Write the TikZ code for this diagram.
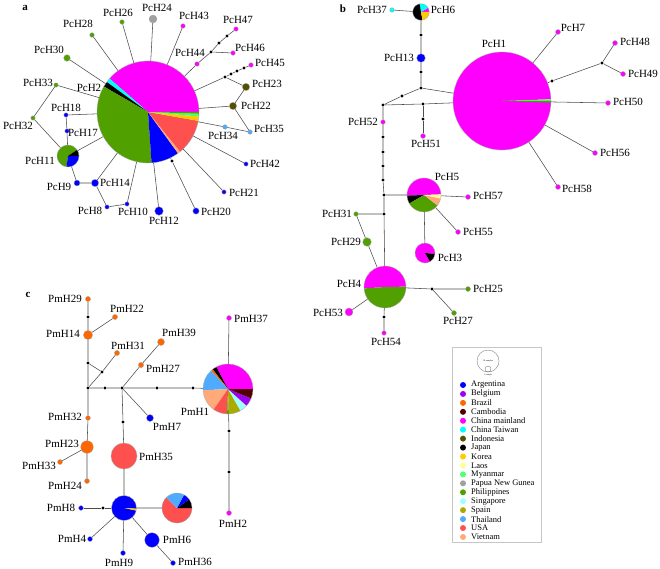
\documentclass[tikz,border=0pt]{standalone}
\usepackage{fontspec}
\setmainfont{Liberation Serif}
\definecolor{cArg}{RGB}{0,0,255}
\definecolor{cBel}{RGB}{160,0,240}
\definecolor{cBra}{RGB}{255,102,0}
\definecolor{cKhm}{RGB}{80,0,0}
\definecolor{cChn}{RGB}{255,0,255}
\definecolor{cTwn}{RGB}{0,255,255}
\definecolor{cIdn}{RGB}{85,80,0}
\definecolor{cJpn}{RGB}{0,0,0}
\definecolor{cKor}{RGB}{255,204,0}
\definecolor{cLao}{RGB}{255,255,150}
\definecolor{cMmr}{RGB}{80,255,120}
\definecolor{cPng}{RGB}{160,160,160}
\definecolor{cPhi}{RGB}{80,160,0}
\definecolor{cSgp}{RGB}{160,255,255}
\definecolor{cEsp}{RGB}{170,170,0}
\definecolor{cTha}{RGB}{80,170,255}
\definecolor{cUsa}{RGB}{255,80,80}
\definecolor{cVnm}{RGB}{255,170,120}
% one coloured sector of a haplotype pie
\newcommand{\piepart}[5]{\fill[#5] (#1.center) -- ++(#3:#2) arc[start angle=#3, end angle=#4, radius=#2] -- cycle;}
\tikzset{
  hap/.style={circle, inner sep=0pt, minimum size=#1, draw=gray!70, line width=0.3pt},
  pie/.style={circle, inner sep=0pt, minimum size=#1},
  med/.style={circle, inner sep=0pt, minimum size=3.4pt, fill=black},
  lbl/.style={inner sep=0pt, font=\fontsize{11}{13}\selectfont},
  tag/.style={inner sep=0pt, font=\bfseries\fontsize{11}{13}\selectfont},
  link/.style={draw=black!70, line width=0.55pt},
  rim/.style={draw=gray!70, line width=0.3pt},
  key/.style={circle, inner sep=0pt, minimum size=6pt},
  keytxt/.style={anchor=west, inner sep=0pt, font=\fontsize{8.5}{10}\selectfont}
}
\begin{document}
\begin{tikzpicture}[x=1pt,y=1pt]
\useasboundingbox (0,0) rectangle (660,-569);

% ---------- panel a
\node[tag] (pa) at (25,-8) {a};
\node[pie=102pt] (pch2) at (148,-112) {};
\piepart{pch2}{51}{0}{139}{cChn}
\piepart{pch2}{51}{139}{144}{cTwn}
\piepart{pch2}{51}{144}{150}{cJpn}
\piepart{pch2}{51}{150}{274}{cPhi}
\piepart{pch2}{51}{274}{306}{cArg}
\piepart{pch2}{51}{306}{309}{cVnm}
\piepart{pch2}{51}{309}{350}{cUsa}
\piepart{pch2}{51}{350}{355}{cKor}
\piepart{pch2}{51}{355}{358}{cMmr}
\piepart{pch2}{51}{358}{360}{cPhi}
\draw[rim] (pch2.center) circle[radius=51];
\node[pie=22pt] (pch11) at (68,-156) {};
\piepart{pch11}{11}{34}{262}{cPhi}
\piepart{pch11}{11}{262}{360}{cArg}
\piepart{pch11}{11}{0}{34}{cJpn}
\draw[rim] (pch11.center) circle[radius=11];

\node[hap=8pt, fill=cPng] (pch24) at (153,-19) {};
\node[hap=4.6pt, fill=cPhi] (pch26) at (122,-22) {};
\node[hap=4.6pt, fill=cChn] (pch43) at (183,-26) {};
\node[hap=4.6pt, fill=cPhi] (pch28) at (92,-35) {};
\node[hap=6.6pt, fill=cPhi] (pch30) at (67,-58) {};
\node[hap=4.4pt, fill=cPhi] (pch33) at (56,-85) {};
\node[hap=4.4pt, fill=cPhi] (pch32) at (33,-118) {};
\node[hap=4.4pt, fill=cArg] (pch18) at (66,-115) {};
\node[hap=4.4pt, fill=cArg] (pch17) at (67,-131) {};
\node[hap=6pt, fill=cArg] (pch9) at (77,-183) {};
\node[hap=7.4pt, fill=cArg] (pch14) at (95,-183) {};
\node[hap=4.4pt, fill=cArg] (pch8) at (107,-207) {};
\node[hap=4.4pt, fill=cArg] (pch10) at (127,-204) {};
\node[hap=8.6pt, fill=cArg] (pch12) at (159,-211) {};
\node[med] (ma1) at (172,-161) {};
\node[hap=6.4pt, fill=cArg] (pch20) at (196,-211) {};
\node[hap=4.4pt, fill=cArg] (pch21) at (224,-192) {};
\node[hap=4.4pt, fill=cArg] (pch42) at (246,-164) {};
\node[hap=4.6pt, fill=cTha] (pch34) at (225,-127) {};
\node[hap=4.6pt, fill=cTha] (pch35) at (250,-132) {};
\node[hap=7.4pt, fill=cIdn] (pch22) at (233,-106) {};
\node[hap=7.4pt, fill=cIdn] (pch23) at (246,-87) {};
\node[med] (ma2) at (225,-77) {};
\node[med] (ma3) at (231,-74) {};
\node[med] (ma4) at (237,-71) {};
\node[med] (ma5) at (244,-68) {};
\node[hap=4.6pt, fill=cChn] (pch45) at (251,-65) {};
\node[hap=4.6pt, fill=cChn] (pch44) at (197,-64) {};
\node[med] (ma6) at (211,-52) {};
\node[hap=4.6pt, fill=cChn] (pch46) at (233,-53) {};
\node[med] (ma7) at (219,-43) {};
\node[med] (ma8) at (227,-36) {};
\node[hap=4.6pt, fill=cChn] (pch47) at (236,-29) {};

\draw[link] (pch2) -- (pch24);
\draw[link] (pch2) -- (pch26);
\draw[link] (pch2) -- (pch43);
\draw[link] (pch2) -- (pch28);
\draw[link] (pch2) -- (pch30);
\draw[link] (pch2) -- (pch33) -- (pch32) -- (pch11);
\draw[link] (pch2) -- (pch18) -- (pch17) -- (pch11);
\draw[link] (pch2) -- (pch11);
\draw[link] (pch11) -- (pch9) -- (pch14) -- (pch2);
\draw[link] (pch14) -- (pch8) -- (pch10) -- (pch2);
\draw[link] (pch2) -- (pch12);
\draw[link] (pch2) -- (ma1) -- (pch20);
\draw[link] (pch2) -- (pch21);
\draw[link] (pch2) -- (pch42);
\draw[link] (pch2) -- (pch34) -- (pch35);
\draw[link] (pch2) -- (pch22) -- (pch35);
\draw[link] (pch22) -- (pch23) -- (ma2) -- (pch2);
\draw[link] (ma2) -- (ma3) -- (ma4) -- (ma5) -- (pch45);
\draw[link] (pch2) -- (pch44) -- (ma6) -- (pch46);
\draw[link] (ma6) -- (ma7) -- (ma8) -- (pch47);

\node[lbl] (t24) at (157,-8) {PcH24};
\node[lbl] (t26) at (118,-13) {PcH26};
\node[lbl] (t43) at (194,-16) {PcH43};
\node[lbl] (t47) at (238,-20) {PcH47};
\node[lbl] (t28) at (78,-24) {PcH28};
\node[lbl] (t44) at (190,-53) {PcH44};
\node[lbl] (t46) at (250,-48) {PcH46};
\node[lbl] (t30) at (49,-50) {PcH30};
\node[lbl] (t45) at (270,-63) {PcH45};
\node[lbl] (t33) at (38,-83) {PcH33};
\node[lbl] (t2) at (89,-88) {PcH2};
\node[lbl] (t23) at (267,-84) {PcH23};
\node[lbl] (t18) at (66,-108) {PcH18};
\node[lbl] (t22) at (256,-106) {PcH22};
\node[lbl] (t32) at (18,-126) {PcH32};
\node[lbl] (t17) at (83,-133) {PcH17};
\node[lbl] (t34) at (223,-136) {PcH34};
\node[lbl] (t35) at (269,-129) {PcH35};
\node[lbl] (t11) at (40,-161) {PcH11};
\node[lbl] (t42) at (265,-164) {PcH42};
\node[lbl] (t9) at (59,-187) {PcH9};
\node[lbl] (t14) at (115,-183) {PcH14};
\node[lbl] (t21) at (244,-193) {PcH21};
\node[lbl] (t8) at (90,-211) {PcH8};
\node[lbl] (t10) at (133,-212) {PcH10};
\node[lbl] (t20) at (216,-212) {PcH20};
\node[lbl] (t12) at (164,-221) {PcH12};

% ---------- panel b
\node[tag] (pb) at (343,-9) {b};
\node[pie=98pt] (pch1) at (502,-101) {};
\piepart{pch1}{49}{2}{360}{cChn}
\piepart{pch1}{49}{0}{2}{cMmr}
\piepart{pch1}{49}{-2}{0}{cPhi}
\draw[rim] (pch1.center) circle[radius=49];
\node[pie=16.6pt] (pch6) at (421,-12) {};
\piepart{pch6}{8.3}{0}{30}{cChn}
\piepart{pch6}{8.3}{30}{100}{cTwn}
\piepart{pch6}{8.3}{100}{280}{cJpn}
\piepart{pch6}{8.3}{280}{360}{cKor}
\draw[rim] (pch6.center) circle[radius=8.3];
\node[pie=34pt] (pch5) at (424,-195) {};
\piepart{pch5}{17}{2}{182}{cChn}
\piepart{pch5}{17}{182}{210}{cJpn}
\piepart{pch5}{17}{210}{322}{cPhi}
\piepart{pch5}{17}{322}{348}{cVnm}
\piepart{pch5}{17}{348}{362}{cLao}
\draw[rim] (pch5.center) circle[radius=17];
\node[pie=20pt] (pch3) at (425,-253) {};
\piepart{pch3}{10}{-5}{300}{cChn}
\piepart{pch3}{10}{-60}{-5}{cJpn}
\draw[rim] (pch3.center) circle[radius=10];
\node[pie=42pt] (pch4) at (385,-287) {};
\piepart{pch4}{21}{1}{184}{cChn}
\piepart{pch4}{21}{184}{361}{cPhi}
\draw[rim] (pch4.center) circle[radius=21];

\node[hap=4.6pt, fill=cTwn] (pch37) at (392,-10) {};
\node[med] (mb1) at (421,-35) {};
\node[hap=8.6pt, fill=cArg] (pch13) at (421,-58) {};
\node[med] (mb2) at (421,-72) {};
\node[med] (mb3) at (421,-88) {};
\node[med] (mb4) at (402,-96) {};
\node[med] (mb5) at (383,-105) {};
\node[med] (mb6) at (423,-104) {};
\node[med] (mb7) at (423,-119) {};
\node[hap=5pt, fill=cChn] (pch51) at (423,-136) {};
\node[hap=4.6pt, fill=cChn] (pch52) at (383,-122) {};
\node[med] (mb8) at (383,-137) {};
\node[med] (mb9) at (383,-152) {};
\node[med] (mb10) at (383,-166) {};
\node[med] (mb11) at (383,-180) {};
\node[med] (mb12) at (384,-195) {};
\node[med] (mb13) at (384,-214) {};
\node[hap=5pt, fill=cChn] (pch57) at (468,-197) {};
\node[hap=5pt, fill=cChn] (pch55) at (458,-232) {};
\node[hap=4.6pt, fill=cPhi] (pch31) at (356,-214) {};
\node[hap=8.6pt, fill=cPhi] (pch29) at (367,-242) {};
\node[hap=8pt, fill=cChn] (pch53) at (349,-312) {};
\node[med] (mb14) at (384,-317) {};
\node[hap=4.6pt, fill=cChn] (pch54) at (384,-333) {};
\node[med] (mb15) at (432,-289) {};
\node[hap=5pt, fill=cPhi] (pch25) at (468,-289) {};
\node[hap=5pt, fill=cPhi] (pch27) at (454,-313) {};
\node[hap=5pt, fill=cChn] (pch7) at (558,-32) {};
\node[med] (mb16) at (552,-81) {};
\node[med] (mb17) at (602,-63) {};
\node[hap=5pt, fill=cChn] (pch48) at (615,-43) {};
\node[hap=5pt, fill=cChn] (pch49) at (623,-74) {};
\node[hap=5pt, fill=cChn] (pch50) at (608,-103) {};
\node[hap=5pt, fill=cChn] (pch56) at (595,-153) {};
\node[hap=5pt, fill=cChn] (pch58) at (558,-187) {};

\draw[link] (pch37) -- (pch6) -- (mb1) -- (pch13) -- (mb2) -- (mb3) -- (pch1);
\draw[link] (mb3) -- (mb4) -- (mb5) -- (mb6) -- (pch1);
\draw[link] (mb6) -- (mb7) -- (pch51);
\draw[link] (mb5) -- (pch52) -- (mb8) -- (mb9) -- (mb10) -- (mb11) -- (mb12) -- (mb13) -- (pch4);
\draw[link] (mb12) -- (pch5) -- (pch57);
\draw[link] (pch5) -- (pch55);
\draw[link] (pch5) -- (pch3);
\draw[link] (mb13) -- (pch31) -- (pch29) -- (pch4);
\draw[link] (pch4) -- (pch53);
\draw[link] (pch4) -- (mb14) -- (pch54);
\draw[link] (pch4) -- (mb15) -- (pch25);
\draw[link] (mb15) -- (pch27);
\draw[link] (pch1) -- (pch7);
\draw[link] (pch1) -- (mb16) -- (mb17) -- (pch48);
\draw[link] (mb17) -- (pch49);
\draw[link] (pch1) -- (pch50);
\draw[link] (pch1) -- (pch56);
\draw[link] (pch1) -- (pch58);

\node[lbl] (t37) at (372,-10) {PcH37};
\node[lbl] (t6) at (443,-10) {PcH6};
\node[lbl] (t7) at (573,-28) {PcH7};
\node[lbl] (t1) at (494,-44) {PcH1};
\node[lbl] (t48) at (635,-42) {PcH48};
\node[lbl] (t13) at (399,-58) {PcH13};
\node[lbl] (t49) at (643,-74) {PcH49};
\node[lbl] (t50) at (628,-102) {PcH50};
\node[lbl] (t52) at (363,-122) {PcH52};
\node[lbl] (t51) at (426,-144) {PcH51};
\node[lbl] (t56) at (615,-153) {PcH56};
\node[lbl] (t5) at (447,-177) {PcH5};
\node[lbl] (t58) at (577,-189) {PcH58};
\node[lbl] (t57) at (488,-196) {PcH57};
\node[lbl] (t31) at (337,-214) {PcH31};
\node[lbl] (t29) at (346,-242) {PcH29};
\node[lbl] (t55) at (478,-232) {PcH55};
\node[lbl] (t3) at (450,-258) {PcH3};
\node[lbl] (t4) at (349,-284) {PcH4};
\node[lbl] (t25) at (488,-289) {PcH25};
\node[lbl] (t53) at (328,-313) {PcH53};
\node[lbl] (t27) at (458,-321) {PcH27};
\node[lbl] (t54) at (386,-342) {PcH54};

% ---------- panel c
\node[tag] (pc) at (28,-295) {c};
\node[pie=50pt] (pmh1) at (228,-389) {};
\piepart{pmh1}{25}{0}{118}{cChn}
\piepart{pmh1}{25}{118}{128}{cJpn}
\piepart{pmh1}{25}{128}{133}{cBra}
\piepart{pmh1}{25}{133}{183}{cTha}
\piepart{pmh1}{25}{183}{235}{cVnm}
\piepart{pmh1}{25}{235}{268}{cUsa}
\piepart{pmh1}{25}{268}{272}{cPhi}
\piepart{pmh1}{25}{272}{300}{cEsp}
\piepart{pmh1}{25}{300}{318}{cSgp}
\piepart{pmh1}{25}{318}{338}{cBel}
\piepart{pmh1}{25}{338}{360}{cKhm}
\draw[rim] (pmh1.center) circle[radius=25];
\node[pie=25pt] (pmhub) at (124,-508) {};
\piepart{pmhub}{12.5}{-3}{348}{cArg}
\piepart{pmhub}{12.5}{-12}{-3}{cKor}
\draw[rim] (pmhub.center) circle[radius=12.5];
\node[pie=30pt] (pmmix) at (177,-508) {};
\piepart{pmmix}{15}{135}{360}{cUsa}
\piepart{pmmix}{15}{0}{35}{cJpn}
\piepart{pmmix}{15}{35}{62}{cArg}
\piepart{pmmix}{15}{62}{135}{cTha}
\draw[rim] (pmmix.center) circle[radius=15];

\node[hap=5.2pt, fill=cBra] (pmh29) at (88,-299) {};
\node[med] (mc1) at (88,-317) {};
\node[hap=9.2pt, fill=cBra] (pmh14) at (88,-335) {};
\node[hap=5.2pt, fill=cBra] (pmh22) at (115,-317) {};
\node[med] (mc2) at (88,-363) {};
\node[med] (mc3) at (102,-372) {};
\node[hap=5.2pt, fill=cBra] (pmh31) at (117,-353) {};
\node[med] (mc4) at (88,-388) {};
\node[med] (mc5) at (105,-388) {};
\node[med] (mc6) at (122,-388) {};
\node[med] (mc7) at (157,-388) {};
\node[med] (mc8) at (193,-388) {};
\node[hap=5.4pt, fill=cBra] (pmh27) at (141,-365) {};
\node[hap=7pt, fill=cBra] (pmh39) at (161,-342) {};
\node[hap=7pt, fill=cArg] (pmh7) at (150,-418) {};
\node[med] (mc9) at (123,-422) {};
\node[pie=26pt, fill=cUsa, draw=gray!70, line width=0.3pt] (pmh35) at (124,-456) {};
\node[hap=5pt, fill=cChn] (pmh37) at (229,-318) {};
\node[med] (mc10) at (229,-431) {};
\node[med] (mc11) at (229,-472) {};
\node[hap=5pt, fill=cChn] (pmh2) at (229,-513) {};
\node[hap=4.8pt, fill=cBra] (pmh32) at (88,-418) {};
\node[hap=12.6pt, fill=cBra] (pmh23) at (87,-447) {};
\node[hap=5pt, fill=cBra] (pmh33) at (60,-462) {};
\node[hap=5pt, fill=cBra] (pmh24) at (87,-481) {};
\node[hap=4.8pt, fill=cArg] (pmh8) at (81,-508) {};
\node[med] (mc12) at (103,-508) {};
\node[hap=5pt, fill=cArg] (pmh4) at (90,-539) {};
\node[hap=5pt, fill=cArg] (pmh9) at (123,-553) {};
\node[hap=14.6pt, fill=cArg] (pmh6) at (152,-540) {};
\node[hap=5pt, fill=cArg] (pmh36) at (173,-563) {};

\draw[link] (pmh29) -- (mc1) -- (pmh14) -- (mc2) -- (mc4) -- (pmh32) -- (pmh23) -- (pmh24);
\draw[link] (pmh14) -- (pmh22);
\draw[link] (mc2) -- (mc3) -- (pmh31);
\draw[link] (mc3) -- (mc4);
\draw[link] (pmh23) -- (pmh33);
\draw[link] (mc4) -- (mc5) -- (mc6) -- (mc7) -- (mc8) -- (pmh1);
\draw[link] (mc6) -- (pmh27) -- (pmh39);
\draw[link] (mc6) -- (pmh7);
\draw[link] (mc6) -- (mc9) -- (pmh35) -- (pmhub) -- (pmmix);
\draw[link] (pmhub) -- (mc12) -- (pmh8);
\draw[link] (pmhub) -- (pmh4);
\draw[link] (pmhub) -- (pmh9);
\draw[link] (pmhub) -- (pmh6) -- (pmh36);
\draw[link] (pmh1) -- (pmh37);
\draw[link] (pmh1) -- (mc10) -- (mc11) -- (pmh2);

\node[lbl] (u29) at (65,-299) {PmH29};
\node[lbl] (u22) at (127,-309) {PmH22};
\node[lbl] (u14) at (63,-334) {PmH14};
\node[lbl] (u39) at (179,-333) {PmH39};
\node[lbl] (u31) at (128,-346) {PmH31};
\node[lbl] (u37) at (251,-319) {PmH37};
\node[lbl] (u27) at (163,-369) {PmH27};
\node[lbl] (u1) at (195,-412) {PmH1};
\node[lbl] (u32) at (65,-417) {PmH32};
\node[lbl] (u7) at (167,-427) {PmH7};
\node[lbl] (u23) at (62,-444) {PmH23};
\node[lbl] (u35) at (156,-457) {PmH35};
\node[lbl] (u33) at (39,-466) {PmH33};
\node[lbl] (u24) at (65,-486) {PmH24};
\node[lbl] (u8) at (61,-508) {PmH8};
\node[lbl] (u2) at (233,-524) {PmH2};
\node[lbl] (u4) at (72,-539) {PmH4};
\node[lbl] (u6) at (177,-540) {PmH6};
\node[lbl] (u9) at (119,-563) {PmH9};
\node[lbl] (u36) at (195,-562) {PmH36};

% ---------- legend
\node[draw=gray!45, line width=0.5pt, inner sep=0pt, minimum width=89pt, minimum height=195pt] (keybox) at (496.5,-444.5) {};
\node[circle, draw=gray!80!black, line width=0.3pt, inner sep=0pt, minimum size=22pt] (kbig) at (488,-361) {};
\node[circle, draw=gray!80!black, line width=0.3pt, inner sep=0pt, minimum size=6pt] (ksmall) at (488,-369) {};
\node[inner sep=0pt, font=\fontsize{2.2}{3}\selectfont] (kten) at (488,-361) {10 samples};
\node[inner sep=0pt, font=\fontsize{2.2}{3}\selectfont] (kone) at (488,-374.5) {1 sample};
\foreach \c/\t [count=\i from 0] in {cArg/Argentina, cBel/Belgium, cBra/Brazil, cKhm/Cambodia, cChn/China mainland, cTwn/China Taiwan, cIdn/Indonesia, cJpn/Japan, cKor/Korea, cLao/Laos, cMmr/Myanmar, cPng/Papua New Gunea, cPhi/Philippines, cSgp/Singapore, cEsp/Spain, cTha/Thailand, cUsa/USA, cVnm/Vietnam}{
  \node[key, fill=\c] (k\i) at (463,{-385-8.94*\i}) {};
  \node[keytxt] (kt\i) at (471,{-385-8.94*\i}) {\t};
}
\end{tikzpicture}
\end{document}
